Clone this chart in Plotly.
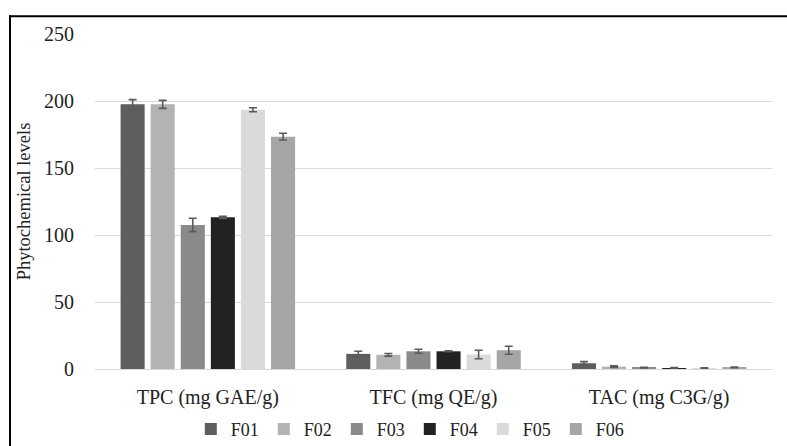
import plotly.graph_objects as go

categories = ["TPC (mg GAE/g)", "TFC (mg QE/g)", "TAC (mg C3G/g)"]
series_names = ["F01", "F02", "F03", "F04", "F05", "F06"]
F01 = [197.5, 11.3, 4.3]
F02 = [197.5, 10.6, 1.8]
F03 = [107.5, 13.2, 1.0]
F04 = [113.2, 13.2, 0.5]
F05 = [193.5, 10.8, 0.3]
F06 = [173.4, 14.0, 1.2]
F01_err = [3.5, 2.0, 1.2]
F02_err = [3.0, 1.0, 0.6]
F03_err = [5.0, 1.5, 0.2]
F04_err = [0.8, 0.3, 0.6]
F05_err = [1.5, 3.2, 0.6]
F06_err = [2.5, 3.0, 0.3]
y_ticks = [0, 50, 100, 150, 200, 250]

values = [F01, F02, F03, F04, F05, F06]
errors = [F01_err, F02_err, F03_err, F04_err, F05_err, F06_err]
colors = ["#5e5e5e", "#b3b3b3", "#8a8a8a", "#222222", "#dadada", "#a6a6a6"]

W, H = 787, 446
ML, MR, MT, MB = 95, 15, 34, 77
PW, PH = W - ML - MR, H - MT - MB

fig = go.Figure()
for name, vals, errs, col in zip(series_names, values, errors, colors):
    fig.add_trace(go.Bar(
        name=name, x=categories, y=vals,
        marker=dict(color=col, line=dict(width=0)),
        error_y=dict(type="data", array=errs, visible=True,
                     color="#5a5a5a", thickness=1.6, width=4),
    ))

font_family = "Liberation Serif, Times New Roman, DejaVu Serif, serif"

# frame lines along the top and left edges of the image
def px_x(x):
    return (x - ML) / PW

def px_y(y):
    return (H - MB - y) / PH

fig.add_shape(type="line", xref="paper", yref="paper",
              x0=px_x(9), x1=px_x(W + 2), y0=px_y(16.3), y1=px_y(16.3),
              line=dict(color="black", width=2))
fig.add_shape(type="line", xref="paper", yref="paper",
              x0=px_x(10), x1=px_x(10), y0=px_y(15.3), y1=px_y(H + 2),
              line=dict(color="black", width=2))

fig.update_layout(
    width=W, height=H,
    margin=dict(l=ML, r=MR, t=MT, b=MB, autoexpand=False),
    paper_bgcolor="white", plot_bgcolor="white",
    barmode="group", bargap=0.2, bargroupgap=0.2,
    font=dict(family=font_family, color="#222222"),
    showlegend=True,
    legend=dict(orientation="h", x=0.465, xanchor="center", y=-0.125, yanchor="top",
                font=dict(size=18, family=font_family, color="#222222"),
                entrywidth=28, entrywidthmode="pixels",
                itemwidth=30, tracegroupgap=0, bgcolor="rgba(0,0,0,0)"),
    xaxis=dict(showgrid=False, showline=False, ticks="",
               tickfont=dict(size=20, family=font_family, color="#222222"),
               ticklabelstandoff=14),
    yaxis=dict(range=[0, 250], tickvals=y_ticks, showgrid=True,
               gridcolor="#d9d9d9", gridwidth=1, zeroline=True,
               zerolinecolor="#d9d9d9", zerolinewidth=1, showline=False,
               ticks="", ticklabelstandoff=20,
               tickfont=dict(size=20, family=font_family, color="#222222"),
               title=dict(text="Phytochemical levels", standoff=8,
                          font=dict(size=18.5, family=font_family, color="#222222"))),
)

fig.write_html("out.html")
